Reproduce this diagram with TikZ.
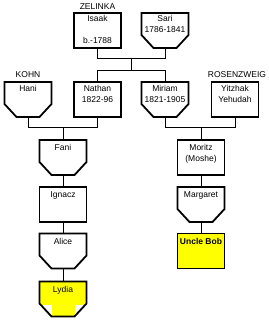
\documentclass[tikz,border=0pt]{standalone}
\usepackage{fontspec}
\setmainfont{Liberation Sans}
\definecolor{hl}{RGB}{255,255,0}
\newcommand\femshape[2]{(#1.north west) -- (#1.north east) -- ([yshift=13pt]#1.south east) -- ([xshift=-12pt]#1.south east) -- ([xshift=12pt]#1.south west) -- ([yshift=13pt]#1.south west) -- cycle}
\newcommand\femfill[2]{\fill[#2] (#1.north west) -- (#1.north east) -- ([yshift=13pt]#1.south east) -- ([xshift=-12pt]#1.south east) -- ([xshift=12pt]#1.south west) -- ([yshift=13pt]#1.south west) -- cycle;}
\newcommand\femclip[1]{\clip (#1.north west) -- (#1.north east) -- ([yshift=13pt]#1.south east) -- ([xshift=-12pt]#1.south east) -- ([xshift=12pt]#1.south west) -- ([yshift=13pt]#1.south west) -- cycle;}
\newcommand\femdraw[1]{\draw[outl] (#1.north west) -- (#1.north east) -- ([yshift=13pt]#1.south east) -- ([xshift=-12pt]#1.south east) -- ([xshift=12pt]#1.south west) -- ([yshift=13pt]#1.south west) -- cycle;}
\begin{document}
\begin{tikzpicture}[x=1pt,y=-1pt,
  box/.style={minimum width=47pt,minimum height=35pt,inner sep=0pt,outer sep=0pt},
  male/.style={box,draw,line width=1.8pt,fill=#1},
  male/.default=white,
  female/.style={box},
  outl/.style={line width=1.8pt,line join=miter},
  link/.style={line width=1pt},
  txt/.style={font=\fontsize{8.5}{10}\selectfont,inner sep=0pt,anchor=base}
]
\useasboundingbox (0,0) rectangle (268,320);
% boxes
\node[male] (isaak) at (97.5,30.5) {};
\node[female] (sari) at (165,30.5) {};
\femfill{sari}{white}\femdraw{sari}
\node[female] (hani) at (28,99.5) {};
\femfill{hani}{white}\femdraw{hani}
\node[male] (nathan) at (97.5,99.5) {};
\node[female] (miriam) at (165,99.5) {};
\femfill{miriam}{white}\femdraw{miriam}
\node[male] (yitzhak) at (235,99.5) {};
\node[female] (fani) at (63,157.5) {};
\femfill{fani}{white}\femdraw{fani}
\node[male] (ignacz) at (63,204.5) {};
\node[female] (alice) at (63,251) {};
\femfill{alice}{white}\femdraw{alice}
\node[female] (lydia) at (63,299) {};
\femfill{lydia}{hl}
\begin{scope}
\femclip{lydia}
\fill[white] (40,305) rectangle (52,318);
\fill[white] (75,305) rectangle (87,318);
\end{scope}
\femdraw{lydia}
\node[male] (moritz) at (201,157.5) {};
\node[female] (margaret) at (201,204.5) {};
\femfill{margaret}{white}\femdraw{margaret}
\node[male=hl] (bob) at (201,251) {};
% connectors
\coordinate (j1) at (131.5,59);
\coordinate (j2) at (131.5,71);
\coordinate (j3) at (63,128);
\coordinate (j4) at (201,128);
\draw[link] (isaak.south) -- (isaak.south |- j1) -- (sari.south |- j1) -- (sari.south);
\draw[link] (j1) -- (j2);
\draw[link] (nathan.north) -- (nathan.north |- j2) -- (miriam.north |- j2) -- (miriam.north);
\draw[link] (hani.south) -- (hani.south |- j3) -- (nathan.south |- j3) -- (nathan.south);
\draw[link] (j3) -- (fani.north);
\draw[link] (miriam.south) -- (miriam.south |- j4) -- (yitzhak.south |- j4) -- (yitzhak.south);
\draw[link] (j4) -- (moritz.north);
\draw[link] (fani.south) -- (ignacz.north);
\draw[link] (ignacz.south) -- (alice.north);
\draw[link] (alice.south) -- (lydia.north);
\draw[link] (moritz.south) -- (margaret.north);
\draw[link] (margaret.south) -- (bob.north);
% family names
\node[txt] (zel) at (97.5,10) {ZELINKA};
\node[txt] (kohn) at (28,78) {KOHN};
\node[txt] (rosen) at (237,78) {ROSENZWEIG};
% texts
\node[txt] (isaak1) at ([yshift=-9pt]isaak.north) {Isaak};
\node[txt] (isaak2) at ([yshift=4pt]isaak.south) {b.-1788};
\node[txt] (sari1) at ([yshift=-9pt]sari.north) {Sari};
\node[txt] (sari2) at ([yshift=-20pt]sari.north) {1786-1841};
\node[txt] (hani1) at ([yshift=-10pt]hani.north) {Hani};
\node[txt] (nathan1) at ([yshift=-10pt]nathan.north) {Nathan};
\node[txt] (nathan2) at ([yshift=-21pt]nathan.north) {1822-96};
\node[txt] (miriam1) at ([yshift=-10pt]miriam.north) {Miriam};
\node[txt] (miriam2) at ([yshift=-21pt]miriam.north) {1821-1905};
\node[txt] (yitzhak1) at ([yshift=-10pt]yitzhak.north) {Yitzhak};
\node[txt] (yitzhak2) at ([yshift=-21pt]yitzhak.north) {Yehudah};
\node[txt] (fani1) at ([yshift=-10pt]fani.north) {Fani};
\node[txt] (ignacz1) at ([yshift=-10pt]ignacz.north) {Ignacz};
\node[txt] (alice1) at ([yshift=-11pt]alice.north) {Alice};
\node[txt] (lydia1) at ([yshift=-11pt]lydia.north) {Lydia};
\node[txt] (moritz1) at ([yshift=-10pt]moritz.north) {Moritz};
\node[txt] (moritz2) at ([yshift=-21pt]moritz.north) {(Moshe)};
\node[txt] (margaret1) at ([yshift=-10pt]margaret.north) {Margaret};
\node[txt,font=\fontsize{8.5}{10}\selectfont\bfseries] (bob1) at ([yshift=-11pt]bob.north) {Uncle Bob};
\end{tikzpicture}
\end{document}
